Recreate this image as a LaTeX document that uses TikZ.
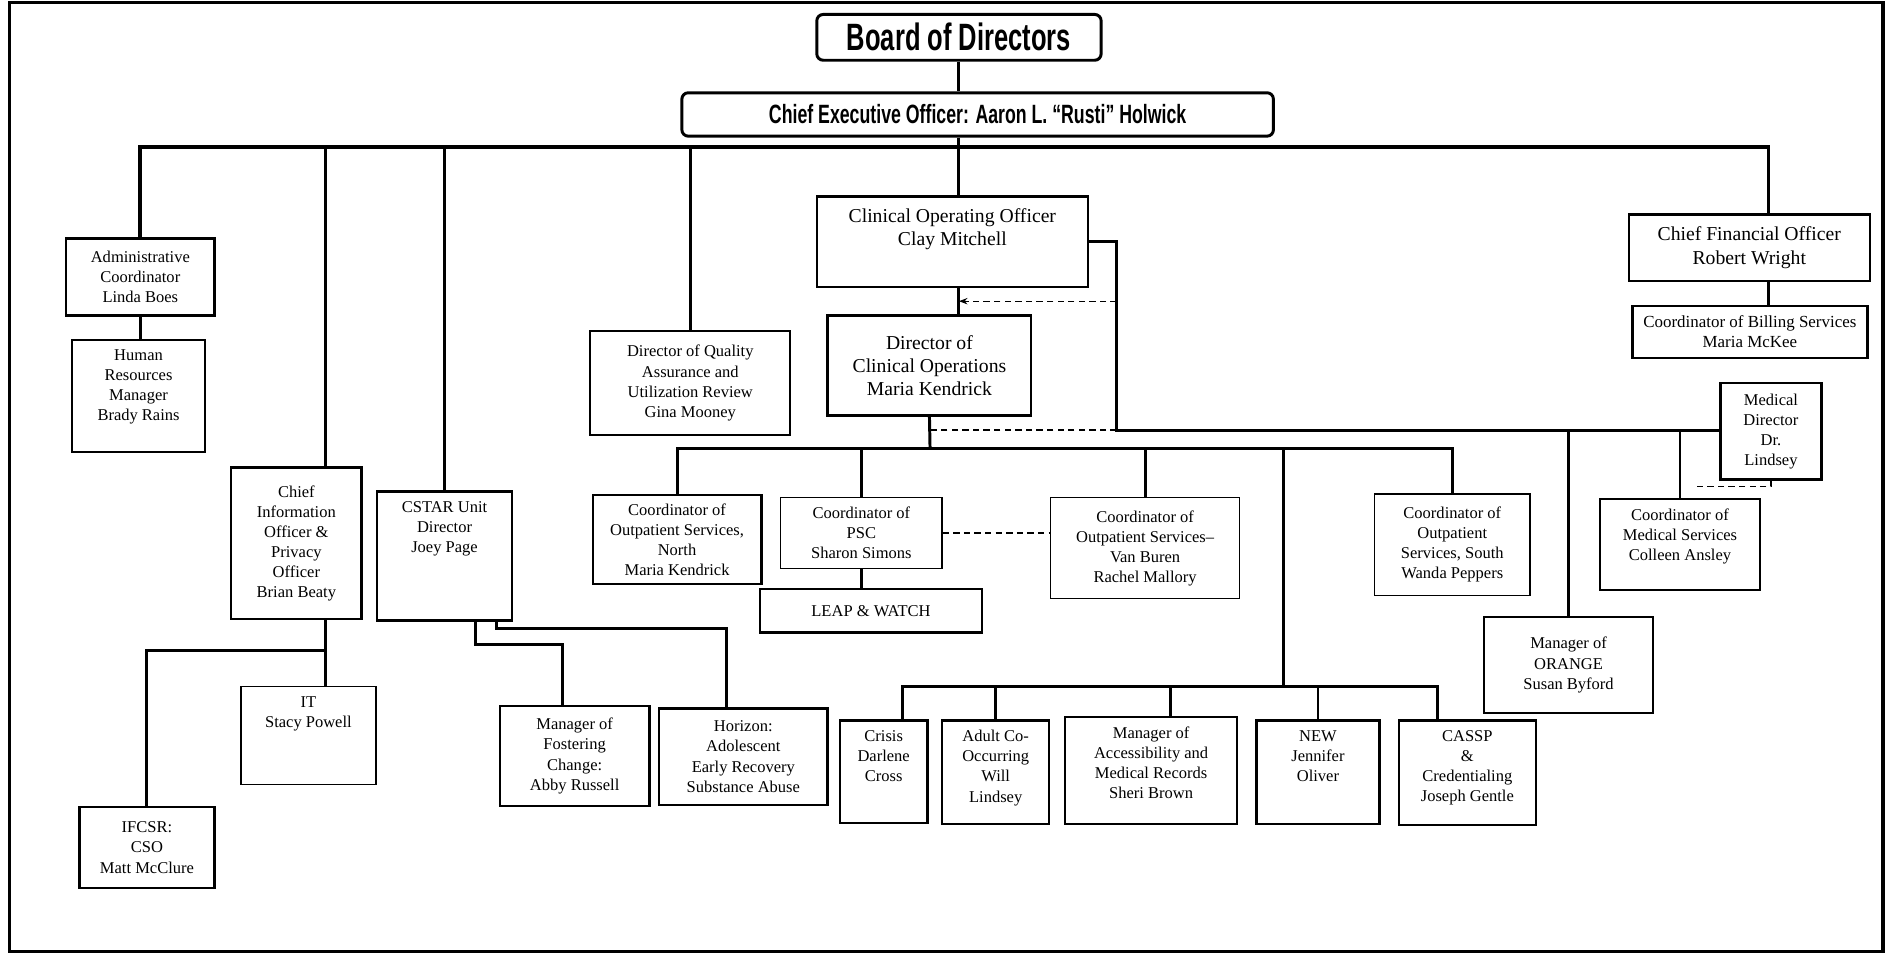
\documentclass[tikz,border=0pt]{standalone}
\usepackage{fontspec}
\setmainfont{Liberation Serif}
\newfontfamily\headfont[FakeStretch=0.67]{Liberation Sans}
\usetikzlibrary{positioning,calc,arrows.meta}

\begin{document}
\begin{tikzpicture}[
        x = 0.02cm, y = -0.02cm,
        box/.style = {draw, line width = 1.1pt, align = center, inner sep = 1pt,
            font = \fontsize{7.8}{9.5}\selectfont},
        lightbox/.style = {box, line width = 0.6pt},
        bigbox/.style = {box, font = \fontsize{9.3}{11}\selectfont},
        headbox/.style = {draw, line width = 1.4pt, rounded corners = 3pt, inner sep = 0pt},
        cell/.style n args = {4}{minimum width = {(#3-#1)*0.02cm},
            minimum height = {(#4-#2)*0.02cm}, at = {({(#1+#3)/2}, {(#2+#4)/2})}},
        boxtext/.style = {align = center, inner sep = 1pt, font = \fontsize{7.8}{9.5}\selectfont},
        link/.style = {line width = 1.4pt},
        dashlink/.style = {line width = 0.6pt, dash pattern = on 3pt off 2pt}
    ]
        \useasboundingbox (0, 0) rectangle (1568, 795);
        \draw [line width = 1.5pt] (8, 2) rectangle (1563, 790);

        % top of the chart
        \node [headbox, cell = {678}{12}{914}{50},
            font = \headfont\bfseries\fontsize{18}{20}\selectfont] (board) {Board of Directors};
        \node [headbox, cell = {566}{77}{1057}{113},
            font = \headfont\bfseries\fontsize{12.5}{14}\selectfont] (ceo) {Chief Executive Officer: Aaron L. “Rusti” Holwick};

        % left branch
        \node [box, cell = {55}{198}{178}{262}] (admin) {Administrative\\Coordinator\\Linda Boes};
        \node [box, cell = {60}{282}{170}{375}] (hr) {};
        \node [boxtext, below = 4pt of hr.north] (hrText) {Human\\Resources\\Manager\\Brady Rains};
        \node [box, cell = {192}{388}{300}{514}] (cio) {Chief\\Information\\Officer \&\\Privacy\\Officer\\Brian Beaty};
        \node [lightbox, cell = {200}{570}{312}{651}] (it) {};
        \node [boxtext, below = 4pt of it.north] (itText) {IT\\Stacy Powell};
        \node [box, cell = {66}{670}{178}{737}] (ifcsr) {IFCSR:\\CSO\\Matt McClure};
        \node [box, cell = {313}{408}{425}{515}] (cstar) {};
        \node [boxtext, below = 4pt of cstar.north] (cstarText) {CSTAR Unit\\Director\\Joey Page};
        \node [box, cell = {415}{586}{539}{669}] (fostering) {Manager of\\Fostering\\Change:\\Abby Russell};
        \node [box, cell = {547}{588}{687}{668}] (early) {Horizon:\\Adolescent\\Early Recovery\\Substance Abuse};
        \node [box, cell = {490}{275}{656}{361}] (quality) {Director of Quality\\Assurance and\\Utilization Review\\Gina Mooney};

        % clinical branch
        \node [bigbox, cell = {678}{163}{903}{238}] (coo) {};
        \node [boxtext, font = \fontsize{9.3}{11}\selectfont, below = 5pt of coo.north] (cooText) {Clinical Operating Officer\\Clay Mitchell};
        \node [bigbox, cell = {687}{262}{856}{345}] (dco) {Director of\\Clinical Operations\\Maria Kendrick};
        \node [box, cell = {492}{411}{632}{485}] (outNorth) {Coordinator of\\Outpatient Services,\\North\\Maria Kendrick};
        \node [lightbox, cell = {648}{413}{782}{472}] (psc) {Coordinator of\\PSC\\Sharon Simons};
        \node [box, cell = {631}{489}{815}{525}] (leap) {LEAP \& WATCH};
        \node [lightbox, cell = {872}{413}{1029}{497}] (vanBuren) {Coordinator of\\Outpatient Services–\\Van Buren\\Rachel Mallory};
        \node [lightbox, cell = {1141}{410}{1270}{494}] (outSouth) {Coordinator of\\Outpatient\\Services, South\\Wanda Peppers};
        \node [box, cell = {697}{598}{770}{683}] (crisis) {};
        \node [boxtext, below = 4pt of crisis.north] (crisisText) {Crisis\\Darlene\\Cross};
        \node [box, cell = {782}{598}{871}{684}] (adultCo) {};
        \node [boxtext, below = 4pt of adultCo.north] (adultCoText) {Adult Co-\\Occurring\\Will\\Lindsey};
        \node [box, cell = {884}{595}{1027}{684}] (records) {};
        \node [boxtext, below = 4pt of records.north] (recordsText) {Manager of\\Accessibility and\\Medical Records\\Sheri Brown};
        \node [box, cell = {1043}{598}{1145}{684}] (newOliver) {};
        \node [boxtext, below = 4pt of newOliver.north] (newOliverText) {NEW\\Jennifer\\Oliver};
        \node [box, cell = {1161}{598}{1275}{685}] (cassp) {};
        \node [boxtext, below = 4pt of cassp.north] (casspText) {CASSP\\\&\\Credentialing\\Joseph Gentle};
        \node [box, cell = {1232}{512}{1372}{592}] (orange) {Manager of\\ORANGE\\Susan Byford};
        \node [box, cell = {1328}{414}{1461}{490}] (coordMed) {};
        \node [boxtext, below = 4pt of coordMed.north] (coordMedText) {Coordinator of\\Medical Services\\Colleen Ansley};
        \node [box, cell = {1428}{318}{1512}{398}] (medDir) {Medical\\Director\\Dr.\\Lindsey};

        % finance branch
        \node [bigbox, cell = {1352}{178}{1552}{233}] (cfo) {Chief Financial Officer\\Robert Wright};
        \node [box, font = \fontsize{8}{9.5}\selectfont, cell = {1355}{254}{1550}{297}] (billing) {Coordinator of Billing Services\\Maria McKee};

        % connectors
        \coordinate (cfoDrop) at (1468, 122);
        \coordinate (cioTop) at ($(cio.north west)!.72!(cio.north east)$);
        \coordinate (cioBottom) at ($(cio.south west)!.72!(cio.south east)$);
        \coordinate (cioFork) at (270, 540);
        \coordinate (fosterTurn) at (467, 535);
        \coordinate (earlyTurn) at (603, 522);
        \coordinate (medBus) at (927, 357);
        \coordinate (medDash) at (1405, 404);
        \coordinate (cooDash) at (927, 250);
        \coordinate (dcoBus) at (772, 372);
        \coordinate (lowBus) at (1065, 570);
        \coordinate (crisisTop) at ([xshift = 0.32cm]crisis.north);
        \coordinate (recordsTop) at ([xshift = 0.32cm]records.north);
        \coordinate (casspTop) at ([xshift = -0.5cm]cassp.north);

        \draw [link] (board.south) -- (board.south |- ceo.north);
        \draw [link] (ceo.south -| board.south) -- (board.south |- coo.north);
        \draw [link, line width = 1.8pt] (admin.north) |- (cfoDrop) -- (cfoDrop |- cfo.north);
        \draw [link] (cioTop) -- (cioTop |- cfoDrop);
        \draw [link] (cstar.north) -- (cstar.north |- cfoDrop);
        \draw [link] (quality.north) -- (quality.north |- cfoDrop);
        \draw [link] (admin.south) -- (admin.south |- hr.north);
        \draw [link] (cfoDrop |- cfo.south) -- (cfoDrop |- billing.north);

        \draw [link] (cioBottom) -- (cioBottom |- it.north);
        \draw [link] (ifcsr.north) |- (cioFork);
        \draw [link] ([xshift = 0.52cm]cstar.south) |- (fosterTurn) -- (fosterTurn |- fostering.north);
        \draw [link] ([xshift = 0.86cm]cstar.south) |- (earlyTurn) -- (earlyTurn |- early.north);

        \draw [link] (board.south |- coo.south) -- (board.south |- dco.north);
        \draw [link] (coo.east) -| (medBus) -- (medBus -| medDir.west);
        \draw [link] (orange.north) -- (orange.north |- medBus);
        \draw [link] (coordMed.north) -- (coordMed.north |- medBus);
        \draw [dashlink] (medDir.south) |- (medDash);
        \draw [dashlink, -{Stealth[length = 4pt, width = 3pt]}] (cooDash) -- (cooDash -| board.south);
        \draw [dashlink] (medBus) -- (medBus -| dco.south);

        \draw [link] (dco.south) -- (dcoBus);
        \draw [link] (outNorth.north) |- (outSouth.north |- dcoBus) -- (outSouth.north);
        \draw [link] (psc.north) -- (psc.north |- dcoBus);
        \draw [link] (vanBuren.north) -- (vanBuren.north |- dcoBus);
        \draw [link] (psc.south) -- (psc.south |- leap.north);
        \draw [dashlink] (psc.east) -- (psc.east -| vanBuren.west);

        \draw [link] (lowBus |- dcoBus) -- (lowBus);
        \draw [link] (crisisTop) |- (casspTop |- lowBus) -- (casspTop);
        \draw [link] (adultCo.north) -- (adultCo.north |- lowBus);
        \draw [link] (recordsTop) -- (recordsTop |- lowBus);
        \draw [link] (newOliver.north) -- (newOliver.north |- lowBus);
    \end{tikzpicture}
\end{document}
